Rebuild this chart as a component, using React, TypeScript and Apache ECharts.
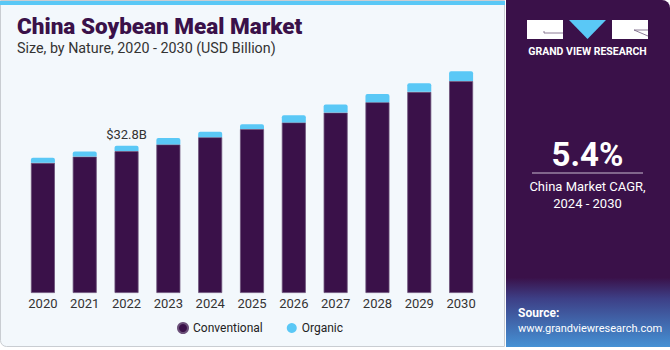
import React, { useEffect, useRef } from "react";
import * as echarts from "echarts";

const years = ["2020", "2021", "2022", "2023", "2024", "2025", "2026", "2027", "2028", "2029", "2030"];
const conventional = [29.0, 30.4, 31.6, 33.1, 34.7, 36.5, 38.0, 40.2, 42.5, 44.8, 47.2];
const organic = [1.1, 1.1, 1.2, 1.4, 1.2, 1.1, 1.6, 1.8, 1.8, 1.9, 2.2];
const highlightIndex = 2;
const highlightLabel = "$32.8B";

const DARK = "#3a1149";
const BLUE = "#5ac8f6";

export default function App() {
  const ref = useRef<HTMLDivElement>(null);
  useEffect(() => {
    if (!ref.current) return;
    const chart = echarts.init(ref.current, null, { renderer: "svg" });
    const font = "Roboto, 'Liberation Sans', sans-serif";
    chart.setOption({
      animation: false,
      textStyle: { fontFamily: font },
      grid: { left: 22, right: 188, top: 23.6, bottom: 57, containLabel: false },
      xAxis: {
        type: "category",
        data: years,
        axisLine: { show: false },
        axisTick: { show: false },
        axisLabel: { color: "#333", fontSize: 13, margin: 4, fontFamily: font },
      },
      yAxis: { type: "value", min: 0, max: 60, show: false, splitLine: { show: false } },
      legend: {
        left: 172,
        top: 317,
        icon: "circle",
        itemWidth: 10,
        itemHeight: 10,
        itemGap: 24,
        textStyle: { color: "#222", fontSize: 12, fontFamily: font },
        data: ["Conventional", "Organic"],
      },
      series: [
        {
          name: "Conventional",
          type: "bar",
          stack: "total",
          barWidth: 24,
          data: conventional,
          itemStyle: { color: DARK, borderColor: "#6b5079", borderWidth: 0.8 },
        },
        {
          name: "Organic",
          type: "bar",
          stack: "total",
          barWidth: 24,
          data: organic.map((v, i) =>
            i === highlightIndex
              ? {
                  value: v,
                  label: {
                    show: true,
                    position: "top",
                    distance: 5,
                    formatter: highlightLabel,
                    color: "#333",
                    fontSize: 13,
                    fontFamily: font,
                  },
                }
              : v
          ),
          itemStyle: { color: BLUE, borderRadius: [2, 2, 0, 0] },
        },
      ],
      graphic: [
        {
          type: "rect",
          z: -10,
          silent: true,
          shape: { x: 0.5, y: 0.5, width: 504, height: 346, r: [0, 0, 0, 6] },
          style: { fill: "#f3f8fc", stroke: "#c9cdd2", lineWidth: 1 },
        },
        {
          type: "rect",
          z: -9,
          silent: true,
          shape: { x: 0, y: 1, width: 505, height: 4 },
          style: { fill: BLUE },
        },
        {
          type: "text",
          left: 17,
          top: 14.5,
          style: {
            text: "China Soybean Meal Market",
            fill: DARK,
            font: `900 22.5px ${font}`,
          },
        },
        {
          type: "text",
          left: 17,
          top: 40.5,
          style: {
            text: "Size, by Nature, 2020 - 2030 (USD Billion)",
            fill: "#333",
            font: `14.3px ${font}`,
          },
        },
        // right panel
        {
          type: "rect",
          z: -10,
          silent: true,
          shape: { x: 506, y: 0, width: 164, height: 347, r: [0, 8, 0, 0] },
          style: {
            fill: new echarts.graphic.LinearGradient(0, 0, 0, 1, [
              { offset: 0, color: DARK },
              { offset: 0.8, color: DARK },
              { offset: 0.86, color: "#3d3f86" },
              { offset: 1, color: "#4591d4" },
            ]),
          },
        },
        // logo
        {
          type: "rect",
          z: 20,
          shape: { x: 527, y: 20, width: 36, height: 19 },
          style: { fill: "#ffffff", stroke: "none" },
        },
        {
          type: "polyline",
          z: 21,
          shape: { points: [[544, 31], [544, 33], [563, 33]] },
          style: { stroke: "#6e5c7c", lineWidth: 0.8, fill: null },
        },
        {
          type: "polygon",
          z: 20,
          shape: { points: [[569, 20], [606, 20], [587.5, 39]] },
          style: { fill: BLUE },
        },
        {
          type: "rect",
          z: 20,
          shape: { x: 612, y: 20, width: 36, height: 19 },
          style: { fill: "#ffffff", stroke: "none" },
        },
        {
          type: "line",
          z: 21,
          shape: { x1: 634, y1: 30, x2: 648, y2: 36 },
          style: { stroke: "#6e5c7c", lineWidth: 0.8 },
        },
        {
          type: "line",
          z: 21,
          shape: { x1: 634, y1: 30, x2: 648, y2: 30 },
          style: { stroke: "#6e5c7c", lineWidth: 0.8 },
        },
        {
          type: "text",
          x: 587.5,
          y: 51,
          style: {
            text: "GRAND VIEW RESEARCH",
            fill: "#fff",
            font: `bold 10.5px ${font}`,
            align: "center",
            verticalAlign: "middle",
          },
        },
        {
          type: "text",
          x: 587.5,
          y: 154,
          style: {
            text: "5.4%",
            fill: "#fff",
            font: `bold 33px ${font}`,
            align: "center",
            verticalAlign: "middle",
          },
        },
        {
          type: "line",
          shape: { x1: 532, y1: 173, x2: 643, y2: 173 },
          style: { stroke: "#c8bcd0", lineWidth: 1 },
        },
        {
          type: "text",
          x: 587.5,
          y: 186,
          style: {
            text: "China Market CAGR,",
            fill: "#fff",
            font: `13px ${font}`,
            align: "center",
            verticalAlign: "middle",
          },
        },
        {
          type: "text",
          x: 587.5,
          y: 203,
          style: {
            text: "2024 - 2030",
            fill: "#fff",
            font: `13px ${font}`,
            align: "center",
            verticalAlign: "middle",
          },
        },
        {
          type: "text",
          x: 518,
          y: 313,
          style: {
            text: "Source:",
            fill: "#fff",
            font: `bold 12px ${font}`,
            verticalAlign: "middle",
          },
        },
        {
          type: "text",
          x: 518,
          y: 328,
          style: {
            text: "www.grandviewresearch.com",
            fill: "#fff",
            font: `11px ${font}`,
            verticalAlign: "middle",
          },
        },
      ],
    });
    return () => chart.dispose();
  }, []);
  return (
    <div
      ref={ref}
      style={{ position: "fixed", left: 0, top: 0, width: 670, height: 350, background: "#ffffff" }}
    />
  );
}
